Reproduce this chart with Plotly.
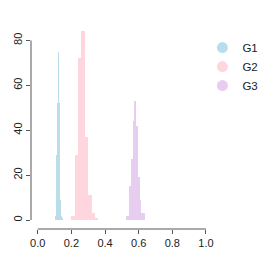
import plotly.graph_objects as go

# ---- data ----
groups = ["G1", "G2", "G3"]
colors = ["rgba(173,216,230,0.85)", "rgba(255,192,203,0.65)", "rgba(216,176,232,0.62)"]

g1_width = 0.005
g1_left = [0.105, 0.11, 0.115, 0.12, 0.125, 0.13, 0.135, 0.14, 0.145, 0.15, 0.155, 0.16]
g1_counts = [2, 29, 52, 75, 52, 24, 9, 2, 1, 0, 0, 1]

g2_width = 0.02
g2_left = [0.20, 0.22, 0.24, 0.26, 0.28, 0.30, 0.32, 0.34]
g2_counts = [2, 29, 72, 84, 37, 11, 3, 1]

g3_width = 0.01
g3_left = [0.525, 0.535, 0.545, 0.555, 0.565, 0.575, 0.585, 0.595, 0.605, 0.615, 0.625]
g3_counts = [2, 2, 15, 27, 44, 53, 42, 19, 9, 3, 3]

x_ticks = [0.0, 0.2, 0.4, 0.6, 0.8, 1.0]
x_ticklabels = ["0.0", "0.2", "0.4", "0.6", "0.8", "1.0"]
y_ticks = [0, 20, 40, 60, 80]

series = [
    (g1_left, g1_counts, g1_width),
    (g2_left, g2_counts, g2_width),
    (g3_left, g3_counts, g3_width),
]

fig = go.Figure()
for name, color, (left, counts, w) in zip(groups, colors, series):
    fig.add_trace(go.Bar(
        x=[l + w / 2 for l in left], y=counts, width=w,
        marker=dict(color=color, line=dict(width=0)),
        name=name, showlegend=False,
    ))
    # legend entry with circle symbol
    fig.add_trace(go.Scatter(
        x=[None], y=[None], mode="markers", name=name,
        marker=dict(symbol="circle", size=11, color=color),
    ))

axis_color = "#555555"
fig.update_layout(
    width=260, height=260,
    margin=dict(l=23, r=6, t=19, b=39, autoexpand=False),
    paper_bgcolor="white", plot_bgcolor="white",
    barmode="overlay", bargap=0,
    font=dict(family="Liberation Sans, Arial, sans-serif", size=11, color="#222222"),
    xaxis=dict(range=[-0.04, 1.333], tickvals=x_ticks, ticktext=x_ticklabels,
               ticks="outside", ticklen=4, tickcolor=axis_color, showgrid=False,
               zeroline=False, showline=False),
    yaxis=dict(range=[-4, 86], tickvals=y_ticks, ticks="outside", ticklen=4,
               tickcolor=axis_color, tickangle=-90, showgrid=False,
               zeroline=False, showline=False),
    legend=dict(x=0.742, y=0.97, xanchor="left", yanchor="top",
                font=dict(size=11.5), bgcolor="rgba(0,0,0,0)", itemwidth=30,
                tracegroupgap=0),
    shapes=[
        dict(type="line", xref="x", yref="paper", x0=x_ticks[0], x1=x_ticks[-1], y0=0, y1=0,
             line=dict(color=axis_color, width=1)),
        dict(type="line", xref="paper", yref="y", x0=0, x1=0, y0=y_ticks[0], y1=y_ticks[-1],
             line=dict(color=axis_color, width=1)),
    ],
)

fig.write_html("out.html")
